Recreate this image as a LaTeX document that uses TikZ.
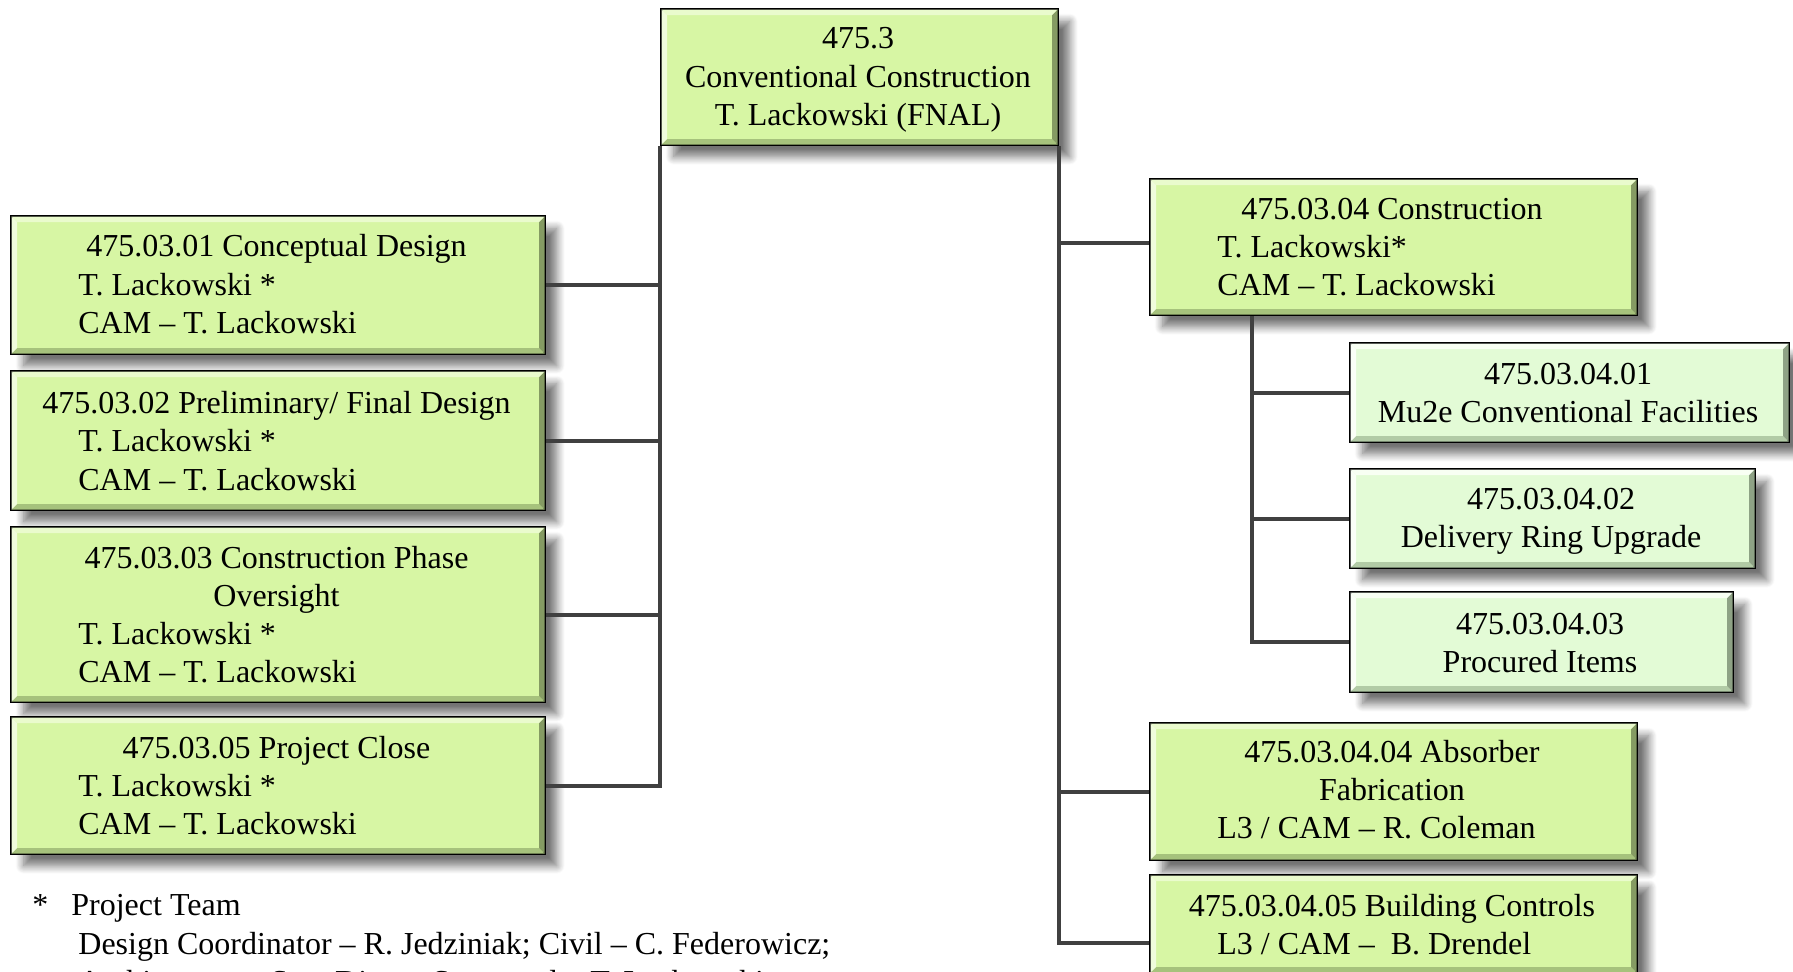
\documentclass[tikz,border=0pt]{standalone}
\usepackage{fontspec}
\setmainfont{Liberation Serif}
\usetikzlibrary{calc,shadows.blur}
\definecolor{mainfill}{HTML}{D7F6A4}
\definecolor{mainlight}{HTML}{EAFBCD}
\definecolor{maindark}{HTML}{A6C27C}
\definecolor{subfill}{HTML}{E3FBD6}
\definecolor{sublight}{HTML}{F8FFF3}
\definecolor{subdark}{HTML}{B2CBA6}
\definecolor{connc}{HTML}{404040}
\tikzset{
  boxbase/.style={draw=black, line width=1.7pt, inner sep=0pt, anchor=north west,
    blur shadow={shadow xshift=6pt, shadow yshift=-6pt, shadow blur radius=4pt, shadow blur steps=10, shadow opacity=55}},
  mainbox/.style={boxbase, fill=mainfill},
  subbox/.style={boxbase, fill=subfill},
  conn/.style={draw=connc, line width=2pt},
  txt/.style={font=\fontsize{16pt}{19pt}\selectfont, inner sep=0pt, anchor=base},
  txtl/.style={txt, anchor=base west},
}
\newcommand\mkbox[6]{%
  \node[#6, minimum width={(#4-#2)*0.5pt}, minimum height={(#5-#3)*0.5pt}] (#1) at (#2,#3) {};}
\newcommand\bevel[3]{%
  \fill[#2] ([shift={(0.85pt,-0.85pt)}]#1.north west) -- ([shift={(-0.85pt,-0.85pt)}]#1.north east)
     -- ([shift={(-3.6pt,-3.6pt)}]#1.north east) -- ([shift={(3.6pt,-3.6pt)}]#1.north west) -- cycle;
  \fill[#2!70!white] ([shift={(0.85pt,-0.85pt)}]#1.north west) -- ([shift={(3.6pt,-3.6pt)}]#1.north west)
     -- ([shift={(3.6pt,3.6pt)}]#1.south west) -- ([shift={(0.85pt,0.85pt)}]#1.south west) -- cycle;
  \fill[#3] ([shift={(0.85pt,0.85pt)}]#1.south west) -- ([shift={(-0.85pt,0.85pt)}]#1.south east)
     -- ([shift={(-3.6pt,3.6pt)}]#1.south east) -- ([shift={(3.6pt,3.6pt)}]#1.south west) -- cycle;
  \fill[#3!80!black] ([shift={(-0.85pt,-0.85pt)}]#1.north east) -- ([shift={(-3.6pt,-3.6pt)}]#1.north east)
     -- ([shift={(-3.6pt,3.6pt)}]#1.south east) -- ([shift={(-0.85pt,0.85pt)}]#1.south east) -- cycle;}
\begin{document}
\begin{tikzpicture}[x=0.5pt,y=-0.5pt]
\useasboundingbox (0,0) rectangle (1793,972);
% boxes
\mkbox{top}{660}{8}{1056}{143}{mainbox}
\mkbox{b1}{10}{215}{543}{352}{mainbox}
\mkbox{b2}{10}{370}{543}{508}{mainbox}
\mkbox{b3}{10}{526}{543}{700}{mainbox}
\mkbox{b4}{10}{716}{543}{852}{mainbox}
\mkbox{con}{1149}{178}{1635}{313}{mainbox}
\mkbox{mu}{1349}{342}{1787}{440}{subbox}
\mkbox{del}{1349}{468}{1753}{566}{subbox}
\mkbox{proc}{1349}{591}{1731}{690}{subbox}
\mkbox{abs}{1149}{722}{1635}{858}{mainbox}
\mkbox{bc}{1149}{874}{1635}{971}{mainbox}
\foreach \b in {top,b1,b2,b3,b4,con,abs,bc}{\bevel{\b}{mainlight}{maindark}}
\foreach \b in {mu,del,proc}{\bevel{\b}{sublight}{subdark}}
% connectors
\draw[conn] (top.south west) |- (b4.east);
\draw[conn] (b1.east) -- (b1.east -| top.south west);
\draw[conn] (b2.east) -- (b2.east -| top.south west);
\draw[conn] (b3.east) -- (b3.east -| top.south west);
\draw[conn] (top.south east) |- ([yshift=-9.5pt]bc.west);
\draw[conn] ([yshift=2pt]con.west) -- ([yshift=2pt]con.west -| top.south east);
\draw[conn] (abs.west) -- (abs.west -| top.south east);
\coordinate (subtop) at ([xshift=51.5pt]con.south west);
\draw[conn] (subtop) |- (proc.west);
\draw[conn] (mu.west) -- (mu.west -| subtop);
\draw[conn] (del.west) -- (del.west -| subtop);
% texts
\node[txt] (t0a) at (858,49) {475.3};
\node[txt] (t0b) at (858,88) {Conventional Construction};
\node[txt] (t0c) at (858,126) {T. Lackowski (FNAL)};
\node[txt] (t1a) at (276.5,257) {475.03.01 Conceptual Design};
\node[txtl] (t1b) at (78,296) {T. Lackowski *};
\node[txtl] (t1c) at (78,334) {CAM – T. Lackowski};
\node[txt] (t2a) at (276.5,414) {475.03.02 Preliminary/ Final Design};
\node[txtl] (t2b) at (78,452) {T. Lackowski *};
\node[txtl] (t2c) at (78,491) {CAM – T. Lackowski};
\node[txt] (t3a) at (276.5,568) {475.03.03 Construction Phase};
\node[txt] (t3b) at (276.5,606) {Oversight};
\node[txtl] (t3c) at (78,644) {T. Lackowski *};
\node[txtl] (t3d) at (78,682) {CAM – T. Lackowski};
\node[txt] (t4a) at (276.5,758) {475.03.05 Project Close};
\node[txtl] (t4b) at (78,796) {T. Lackowski *};
\node[txtl] (t4c) at (78,834) {CAM – T. Lackowski};
\node[txt] (t5a) at (1392,220) {475.03.04 Construction};
\node[txtl] (t5b) at (1217,258) {T. Lackowski*};
\node[txtl] (t5c) at (1217,296) {CAM – T. Lackowski};
\node[txt] (t6a) at (1568,385) {475.03.04.01};
\node[txt] (t6b) at (1568,423) {Mu2e Conventional Facilities};
\node[txt] (t7a) at (1551,510) {475.03.04.02};
\node[txt] (t7b) at (1551,548) {Delivery Ring Upgrade};
\node[txt] (t8a) at (1540,634) {475.03.04.03};
\node[txt] (t8b) at (1540,672) {Procured Items};
\node[txt] (t9a) at (1392,762) {475.03.04.04 Absorber};
\node[txt] (t9b) at (1392,800) {Fabrication};
\node[txtl] (t9c) at (1217,838) {L3 / CAM – R. Coleman};
\node[txt] (t10a) at (1392,916) {475.03.04.05 Building Controls};
\node[txtl] (t10b) at (1217,954) {L3 / CAM –\ \ B. Drendel};
% footnote
\node[txtl] (f0) at (32,915) {*};
\node[txtl] (f1) at (71,915) {Project Team};
\node[txtl] (f2) at (78,954) {Design Coordinator – R. Jedziniak; Civil – C. Federowicz;};
\node[txtl] (f3) at (78,992) {Architecture – Sam Dixon; Structural – T. Lackowski};
\end{tikzpicture}
\end{document}
